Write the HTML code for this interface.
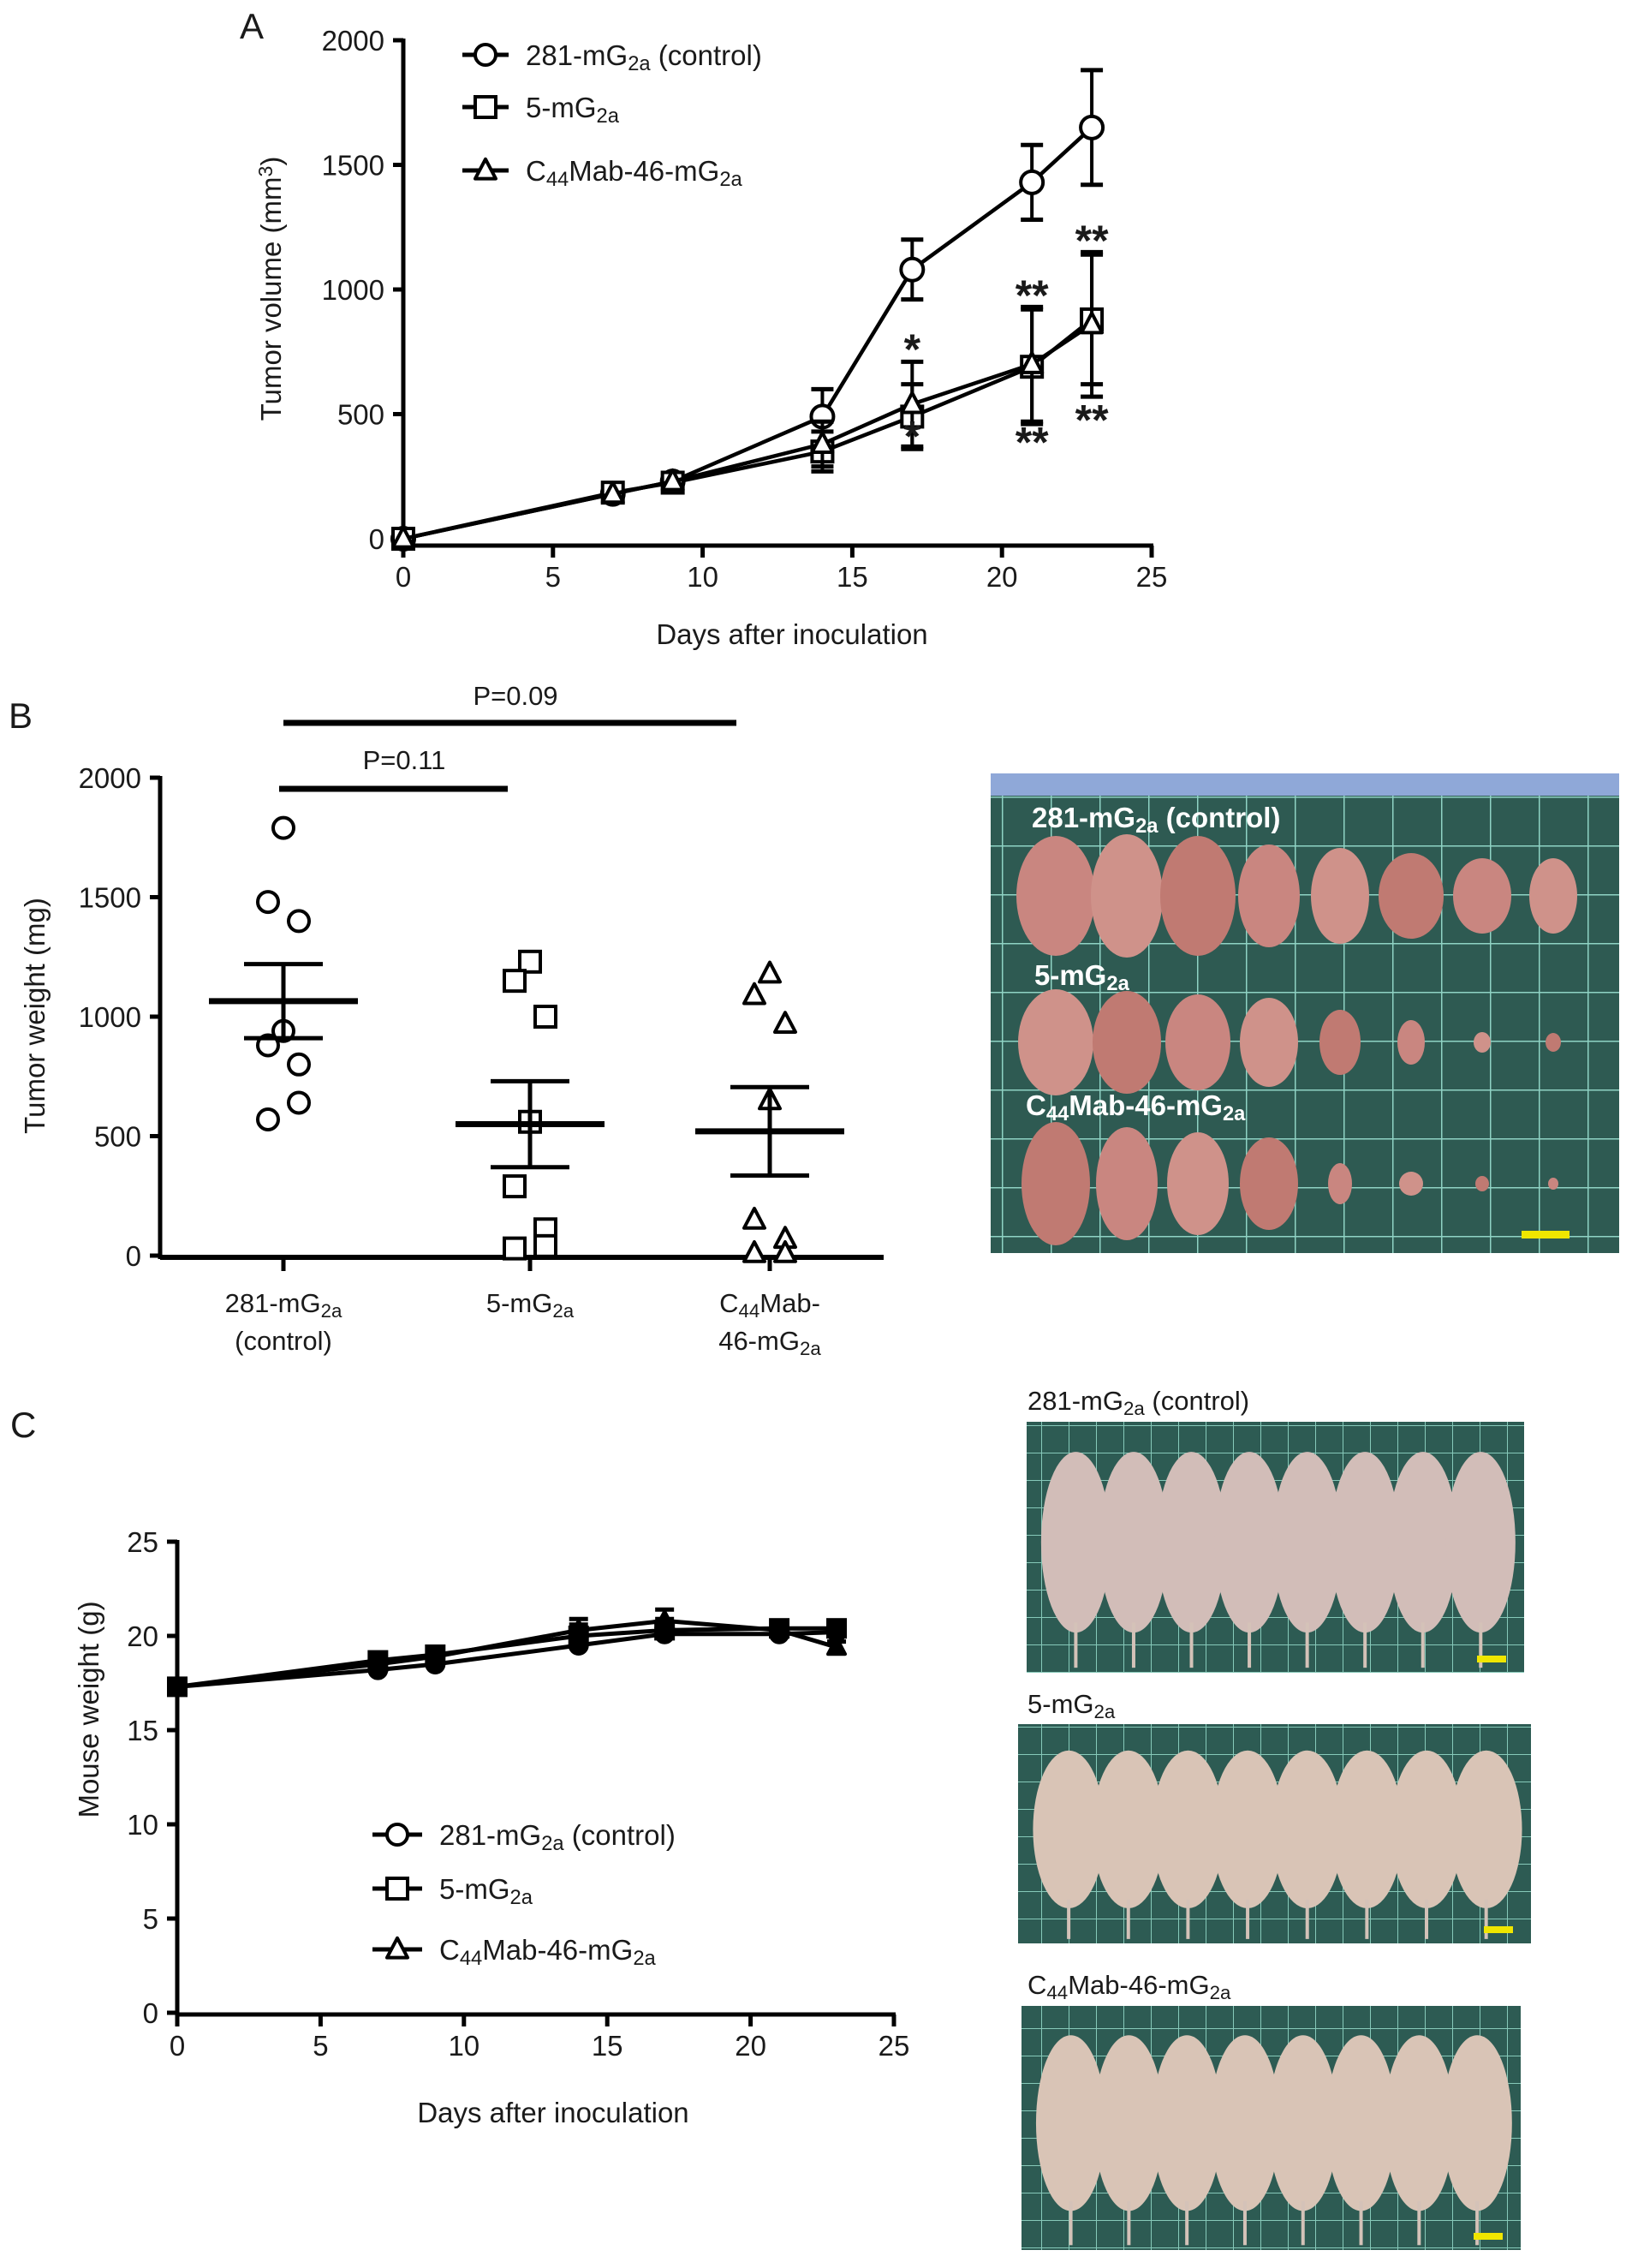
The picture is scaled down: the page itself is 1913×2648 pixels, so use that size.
<!DOCTYPE html>
<html><head><meta charset="utf-8"><style>
html,body{margin:0;padding:0;background:#fff;}
svg{display:block;font-family:"Liberation Sans",Arial,sans-serif;}
</style></head><body>
<svg id="fig" width="1913" height="2648" viewBox="0 0 1913 2648" xmlns="http://www.w3.org/2000/svg">
<defs>
<pattern id="gridT" width="57" height="57" patternUnits="userSpaceOnUse" x="1170" y="930">
<rect width="57" height="57" fill="#2e5a52"/><path d="M0 0H57M0 0V57" stroke="#8fd3c4" stroke-width="3"/></pattern>
<pattern id="gridM" width="32" height="32" patternUnits="userSpaceOnUse">
<rect width="32" height="32" fill="#2d5b53"/><path d="M0 0H32M0 0V32" stroke="#86c9b9" stroke-width="2"/></pattern>
</defs>
<g id="photos"></g>
<g id="panelA"></g><g id="panelB"></g><g id="panelC"></g>
</svg>
<script>
// ---------- Panel A data ----------
const daysA = [0,7,9,14,17,21,23];
const volControl = [0,180,230,490,1080,1430,1650];
const volControlErr = [0,20,25,110,120,150,230];
const vol5 = [0,185,225,350,490,690,880];
const vol5Err = [0,20,25,80,130,230,260];
const volC44 = [0,180,230,380,540,700,860];
const volC44Err = [0,20,25,90,170,230,290];
const ticksAX = [0,5,10,15,20,25];
const ticksAY = [0,500,1000,1500,2000];
const starsA = [[17,783,'*'],[17,435,'*'],[21,1000,'**'],[21,410,'**'],[23,1220,'**'],[23,500,'**']];
// ---------- Panel B data ----------
const groupsB = ['281-mG2a (control)','5-mG2a','C44Mab-46-mG2a'];
const wControl = [1790,1480,1400,940,880,800,640,570];
const w5 = [1230,1150,1000,560,290,110,40,30];
const wC44 = [1180,1090,970,650,150,70,10,10];
const meanB = [1065,550,520];
const semB = [155,180,185];
const ticksBY = [0,500,1000,1500,2000];
// ---------- Panel C data ----------
const daysC = [0,7,9,14,17,21,23];
const mwControl = [17.3,18.2,18.5,19.5,20.1,20.1,20.2];
const mw5 = [17.3,18.7,19.0,20.0,20.3,20.4,20.4];
const mwC44 = [17.3,18.5,18.9,20.3,20.8,20.3,19.4];
const mwErr = [0.2,0.3,0.3,0.6,0.6,0.3,0.3];
const ticksCX = [0,5,10,15,20,25];
const ticksCY = [0,5,10,15,20,25];

const NS='http://www.w3.org/2000/svg';
const FS=33;
function mk(tag, parent, attrs){const e=document.createElementNS(NS,tag);for(const k in attrs)e.setAttribute(k,attrs[k]);parent.appendChild(e);return e;}
function txt(parent, x, y, s, size, anchor, extra){const t=mk('text',parent,{x:x,y:y,'font-size':size,'text-anchor':anchor||'start','fill':'#1a1a1a'});if(extra)for(const k in extra)t.setAttribute(k,extra[k]);t.innerHTML=s;return t;}
function lab(name){
  if(name==='281-mG2a (control)') return '281-mG'+'<tspan font-size="0.72em" dy="6">2a</tspan><tspan dy="-6"> (control)</tspan>';
  if(name==='5-mG2a') return '5-mG<tspan font-size="0.72em" dy="6">2a</tspan>';
  return 'C<tspan font-size="0.72em" dy="6">44</tspan><tspan dy="-6">Mab-46-mG</tspan><tspan font-size="0.72em" dy="6">2a</tspan>';
}
function marker(g, kind, x, y, r, fill){
  let m;
  if(kind==='circle') m=mk('circle',g,{cx:x,cy:y,r:r,fill:fill||'#fff',stroke:'#000','stroke-width':4});
  else if(kind==='square') m=mk('rect',g,{x:x-r,y:y-r,width:2*r,height:2*r,fill:fill||'#fff',stroke:'#000','stroke-width':4});
  else m=mk('path',g,{d:`M${x} ${y-r*1.1}L${x+r} ${y+r*0.8}L${x-r} ${y+r*0.8}Z`,fill:fill||'#fff',stroke:'#000','stroke-width':4,'stroke-linejoin':'round'});
  return m;
}

// ================= Panel A =================
(function(){
  const g=document.getElementById('panelA');
  const x0=471,x1=1345,yTop=47,yZero=629,axisY=637;
  const sx=d=>x0+(d-0)/25*(x1-x0);
  const sy=v=>yZero-(v/2000)*(yZero-yTop);
  txt(g,280,45,'A',42,'start');
  const ya=mk('line',g,{x1:x0,y1:yTop-2,x2:x0,y2:axisY+2,stroke:'#000','stroke-width':5});
   
  const xa=mk('line',g,{x1:x0-2,y1:axisY,x2:x1+2,y2:axisY,stroke:'#000','stroke-width':5});
   
  ticksAY.forEach(v=>{mk('line',g,{x1:x0-12,y1:sy(v),x2:x0,y2:sy(v),stroke:'#000','stroke-width':5});
    const t=txt(g,x0-22,sy(v)+12,String(v),FS,'end'); });
  ticksAX.forEach(d=>{mk('line',g,{x1:sx(d),y1:axisY,x2:sx(d),y2:axisY+14,stroke:'#000','stroke-width':5});
    const t=txt(g,sx(d),axisY+48,String(d),FS,'middle'); });
  const xt=txt(g,925,752,'Days after inoculation',FS,'middle'); 
  const yt=txt(g,0,0,'Tumor volume (mm<tspan font-size="0.7em" dy="-10">3</tspan><tspan dy="10">)</tspan>',FS,'middle',{transform:'translate(328,337) rotate(-90)'});
  
  const series=[['circle',volControl,volControlErr,'control'],['square',vol5,vol5Err,'5-mg2a'],['triangle',volC44,volC44Err,'c44mab']];
  series.forEach(([k,vals,errs,nm])=>{
    const sg=mk('g',g,{});  
    vals.forEach((v,i)=>{ if(errs[i]>40){const x=sx(daysA[i]);
      mk('line',sg,{x1:x,y1:sy(v+errs[i]),x2:x,y2:sy(v-errs[i]),stroke:'#000','stroke-width':4});
      mk('line',sg,{x1:x-13,y1:sy(v+errs[i]),x2:x+13,y2:sy(v+errs[i]),stroke:'#000','stroke-width':5});
      mk('line',sg,{x1:x-13,y1:sy(v-errs[i]),x2:x+13,y2:sy(v-errs[i]),stroke:'#000','stroke-width':5});}});
    const p=mk('polyline',sg,{points:vals.map((v,i)=>sx(daysA[i])+','+sy(v)).join(' '),fill:'none',stroke:'#000','stroke-width':4.5});
    
    vals.forEach((v,i)=>{const m=marker(sg,k,sx(daysA[i]),sy(v),k==='circle'?13:12);
       });
  });
  starsA.forEach(([d,v,s])=>{const t=txt(g,sx(d),sy(v)+24,s,50,'middle',{'font-weight':'bold'}); });
  const leg=[['circle','281-mG2a (control)',64],['square','5-mG2a',125],['triangle','C44Mab-46-mG2a',199]];
  leg.forEach(([k,n,y])=>{const lg=mk('g',g,{});  
    mk('line',lg,{x1:540,y1:y,x2:594,y2:y,stroke:'#000','stroke-width':5}); marker(lg,k,567,y,12);
    txt(lg,614,y+12,lab(n),FS,'start');});
})();

// ================= Panel B =================
(function(){
  const g=document.getElementById('panelB');
  const x0=187,x1=1032,yTop=908,yZero=1466,axisY=1468;
  const cx=[331,619,899];
  const sy=v=>yZero-(v/2000)*(yZero-yTop);
  txt(g,10,850,'B',42,'start');
  const ya=mk('line',g,{x1:x0,y1:yTop-2,x2:x0,y2:axisY+2,stroke:'#000','stroke-width':5});
   
  const xa=mk('line',g,{x1:x0,y1:axisY,x2:x1,y2:axisY,stroke:'#000','stroke-width':6});
   
  ticksBY.forEach(v=>{mk('line',g,{x1:x0-12,y1:sy(v),x2:x0,y2:sy(v),stroke:'#000','stroke-width':5});
    const t=txt(g,x0-22,sy(v)+12,String(v),FS,'end'); });
  cx.forEach(x=>mk('line',g,{x1:x,y1:axisY,x2:x,y2:axisY+16,stroke:'#000','stroke-width':5}));
  let t=txt(g,331,1532,'281-mG<tspan font-size="0.72em" dy="6">2a</tspan>',31,'middle'); 
  t=txt(g,331,1576,'(control)',31,'middle'); 
  t=txt(g,619,1532,'5-mG<tspan font-size="0.72em" dy="6">2a</tspan>',31,'middle'); 
  t=txt(g,899,1532,'C<tspan font-size="0.72em" dy="6">44</tspan><tspan dy="-6">Mab-</tspan>',31,'middle'); 
  t=txt(g,899,1576,'46-mG<tspan font-size="0.72em" dy="6">2a</tspan>',31,'middle'); 
  const yt=txt(g,0,0,'Tumor weight (mg)',FS,'middle',{transform:'translate(52,1186) rotate(-90)'}); 
  const groups=[['circle',wControl,'control'],['square',w5,'5-mg2a'],['triangle',wC44,'c44mab']];
  const jit=[0,-1,1,0,-1,1,1,-1];
  groups.forEach(([k,vals,nm],gi)=>{
    const sg=mk('g',g,{});  
    vals.forEach((v,i)=>{const m=marker(sg,k,cx[gi]+jit[i]*18,sy(v),12);  });
    const mu=meanB[gi],se=semB[gi];
    const ml=mk('line',sg,{x1:cx[gi]-87,y1:sy(mu),x2:cx[gi]+87,y2:sy(mu),stroke:'#000','stroke-width':7}); 
    mk('line',sg,{x1:cx[gi],y1:sy(mu+se),x2:cx[gi],y2:sy(mu-se),stroke:'#000','stroke-width':5});
    mk('line',sg,{x1:cx[gi]-46,y1:sy(mu+se),x2:cx[gi]+46,y2:sy(mu+se),stroke:'#000','stroke-width':5});
    mk('line',sg,{x1:cx[gi]-46,y1:sy(mu-se),x2:cx[gi]+46,y2:sy(mu-se),stroke:'#000','stroke-width':5});
  });
  let b=mk('line',g,{x1:331,y1:844,x2:860,y2:844,stroke:'#000','stroke-width':7}); 
  txt(g,602,823,'P=0.09',31,'middle');
  b=mk('line',g,{x1:326,y1:921,x2:593,y2:921,stroke:'#000','stroke-width':7}); 
  txt(g,472,898,'P=0.11',31,'middle');
})();

// ================= Panel C =================
(function(){
  const g=document.getElementById('panelC');
  const x0=207,x1=1044,yTop=1800,yZero=2350,axisY=2352;
  const sx=d=>x0+d/25*(x1-x0);
  const sy=v=>yZero-(v/25)*(yZero-yTop);
  txt(g,12,1678,'C',42,'start');
  const ya=mk('line',g,{x1:x0,y1:yTop-2,x2:x0,y2:axisY+2,stroke:'#000','stroke-width':5});
   
  const xa=mk('line',g,{x1:x0-2,y1:axisY,x2:x1+2,y2:axisY,stroke:'#000','stroke-width':5});
   
  ticksCY.forEach(v=>{mk('line',g,{x1:x0-12,y1:sy(v),x2:x0,y2:sy(v),stroke:'#000','stroke-width':5});
    const t=txt(g,x0-22,sy(v)+12,String(v),FS,'end'); });
  ticksCX.forEach(d=>{mk('line',g,{x1:sx(d),y1:axisY,x2:sx(d),y2:axisY+14,stroke:'#000','stroke-width':5});
    const t=txt(g,sx(d),axisY+48,String(d),FS,'middle'); });
  txt(g,646,2478,'Days after inoculation',FS,'middle');
  txt(g,0,0,'Mouse weight (g)',FS,'middle',{transform:'translate(115,1996) rotate(-90)'});
  const series=[['circle',mwControl,'control'],['square',mw5,'5-mg2a'],['triangle',mwC44,'c44mab']];
  series.forEach(([k,vals,nm])=>{
    const sg=mk('g',g,{});  
    vals.forEach((v,i)=>{const x=sx(daysC[i]); if(mwErr[i]>0.25){
      mk('line',sg,{x1:x,y1:sy(v+mwErr[i]),x2:x,y2:sy(v),stroke:'#000','stroke-width':4});
      mk('line',sg,{x1:x-11,y1:sy(v+mwErr[i]),x2:x+11,y2:sy(v+mwErr[i]),stroke:'#000','stroke-width':5});}});
    const p=mk('polyline',sg,{points:vals.map((v,i)=>sx(daysC[i])+','+sy(v)).join(' '),fill:'none',stroke:'#000','stroke-width':5});
    
    vals.forEach((v,i)=>{const m=marker(sg,k,sx(daysC[i]),sy(v),10,'#000');  });
  });
  const leg=[['circle','281-mG2a (control)',2142],['square','5-mG2a',2205],['triangle','C44Mab-46-mG2a',2276]];
  leg.forEach(([k,n,y])=>{const lg=mk('g',g,{});  
    mk('line',lg,{x1:435,y1:y,x2:493,y2:y,stroke:'#000','stroke-width':5}); marker(lg,k,464,y,12);
    txt(lg,513,y+12,lab(n),FS,'start');});
})();

// ================= Photos =================
(function(){
  const g=document.getElementById('photos');
  const tp=mk('g',g,{});  
  mk('rect',tp,{x:1157,y:903,width:734,height:560,fill:'url(#gridT)'});
  mk('rect',tp,{x:1157,y:903,width:734,height:26,fill:'#8fa8d8'});
  const tsz=[[46,70],[42,72],[44,70],[36,60],[34,56],[38,50],[34,44],[28,44],
             [44,62],[40,60],[38,56],[34,52],[24,38],[16,26],[10,12],[9,11],
             [40,72],[36,66],[36,60],[34,54],[14,24],[14,14],[8,9],[6,7]];
  const rowsY=[1046,1217,1382];
  for(let r=0;r<3;r++)for(let i=0;i<8;i++){const s=tsz[r*8+i];
    mk('ellipse',tp,{cx:1233+i*83,cy:rowsY[r],rx:s[0],ry:s[1],fill:['#c98680','#cf928a','#c07a72'][(i+r)%3]});}
  const tl=[['281-mG<tspan font-size="0.72em" dy="6">2a</tspan><tspan dy="-6"> (control)</tspan>',1205,966],['5-mG<tspan font-size="0.72em" dy="6">2a</tspan>',1208,1150],['C<tspan font-size="0.72em" dy="6">44</tspan><tspan dy="-6">Mab-46-mG</tspan><tspan font-size="0.72em" dy="6">2a</tspan>',1198,1302]];
  tl.forEach(([s,x,y])=>{const t=txt(tp,x,y,s,33,'start',{fill:'#fff','font-weight':'bold'}); t.setAttribute('fill','#ffffff');});
  mk('rect',tp,{x:1777,y:1437,width:56,height:9,fill:'#f0e600'});
  const boxes=[[1199,1660,581,293,'281-mG2a (control)',1200,1646],[1189,2013,599,256,'5-mG2a',1200,2000],[1193,2342,583,285,'C44Mab-46-mG2a',1200,2328]];
  boxes.forEach(([x,y,w,h,n,lx,ly],bi)=>{
    const pg=mk('g',g,{});  
    mk('rect',pg,{x:x,y:y,width:w,height:h,fill:'url(#gridM)'});
    const mw=w/8.6;
    for(let i=0;i<8;i++){
      mk('ellipse',pg,{cx:x+mw*0.85+i*mw,cy:y+h*0.48,rx:mw*0.6,ry:h*0.36,fill:bi===0?'#d2bdb8':'#d9c4b6'});
      mk('rect',pg,{x:x+mw*0.82+i*mw,y:y+h*0.8,width:4,height:h*0.18,fill:'#d4c2b8'});
    }
    mk('rect',pg,{x:x+w-55,y:y+h-20,width:34,height:8,fill:'#f0e600'});
    txt(g,lx,ly,lab(n),31,'start');
  });
})();
</script>
</body></html>
